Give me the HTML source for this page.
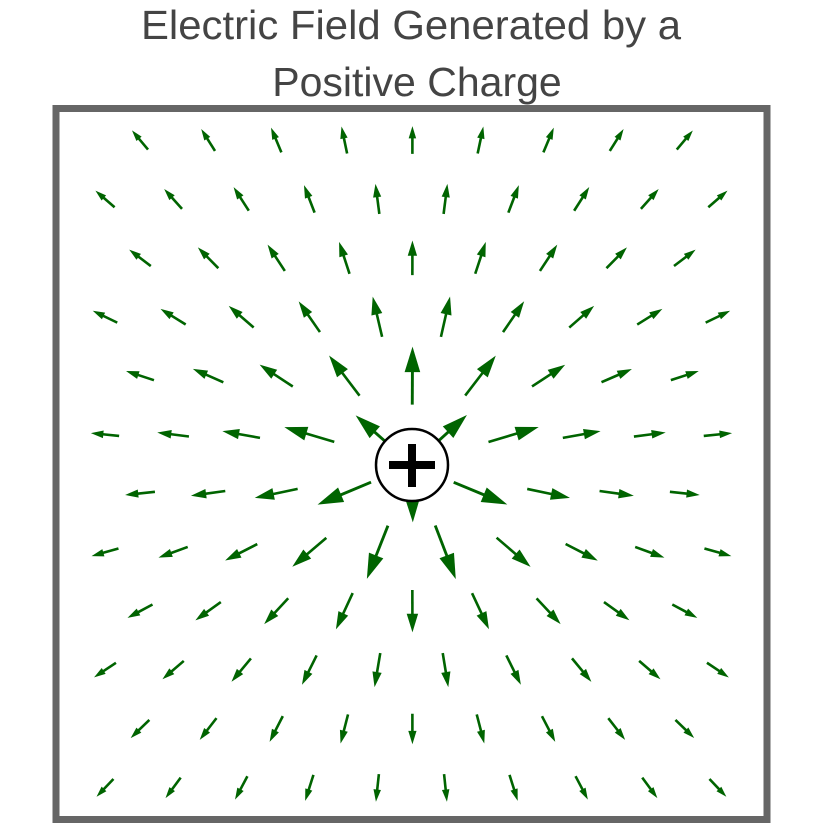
<!DOCTYPE html>
<html><head><meta charset="utf-8"><style>
html,body{margin:0;padding:0;background:#fff;width:825px;height:825px;overflow:hidden}
svg{display:block}
</style></head><body>
<svg id="s" width="825" height="825" viewBox="0 0 825 825" xmlns="http://www.w3.org/2000/svg">
<text x="411" y="39" text-anchor="middle" font-family="Liberation Sans, sans-serif" font-size="41" fill="#444" textLength="540" lengthAdjust="spacingAndGlyphs">Electric Field Generated by a</text>
<text x="417" y="96" text-anchor="middle" font-family="Liberation Sans, sans-serif" font-size="41" fill="#444">Positive Charge</text>
<rect x="56" y="108.5" width="711" height="711" fill="#fff" stroke="#666" stroke-width="7"/>
<g id="arrows"></g>
<circle cx="412" cy="465" r="36" fill="#fff" stroke="#000" stroke-width="2.5"/>
<rect x="389" y="461" width="46" height="8" fill="#000"/>
<rect x="408" y="444" width="8" height="43" fill="#000"/>
</svg>
<script>
(function(){
var g=document.getElementById('arrows'),cx=412,cy=465,h='';
for(var i=0;i<12;i++){
  var y=140+i*58.9, odd=i%2==1, n=odd?10:9, x0=odd?105:140;
  for(var k=0;k<n;k++){
    var x=x0+k*68.1, dx=x-cx, dy=y-cy, d=Math.sqrt(dx*dx+dy*dy);
    if(d<1)continue;
    var L=Math.min(58,15.8+3888/d), ux=dx/d, uy=dy/d;
    var tx=x+ux*L/2, ty=y+uy*L/2, sx=x-ux*L/2, sy=y-uy*L/2;
    var hl=0.44*L, hw=0.135*L;
    var bx=tx-ux*hl, by=ty-uy*hl;
    var sw=Math.max(2.6,L*0.05);
    h+='<line x1="'+sx+'" y1="'+sy+'" x2="'+(bx+ux*2)+'" y2="'+(by+uy*2)+'" stroke="#006400" stroke-width="'+sw+'"/>';
    h+='<polygon fill="#006400" points="'+tx+','+ty+' '+(bx-uy*hw)+','+(by+ux*hw)+' '+(bx+uy*hw)+','+(by-ux*hw)+'"/>';
  }
}
g.innerHTML=h;
})();
</script>
</body></html>
